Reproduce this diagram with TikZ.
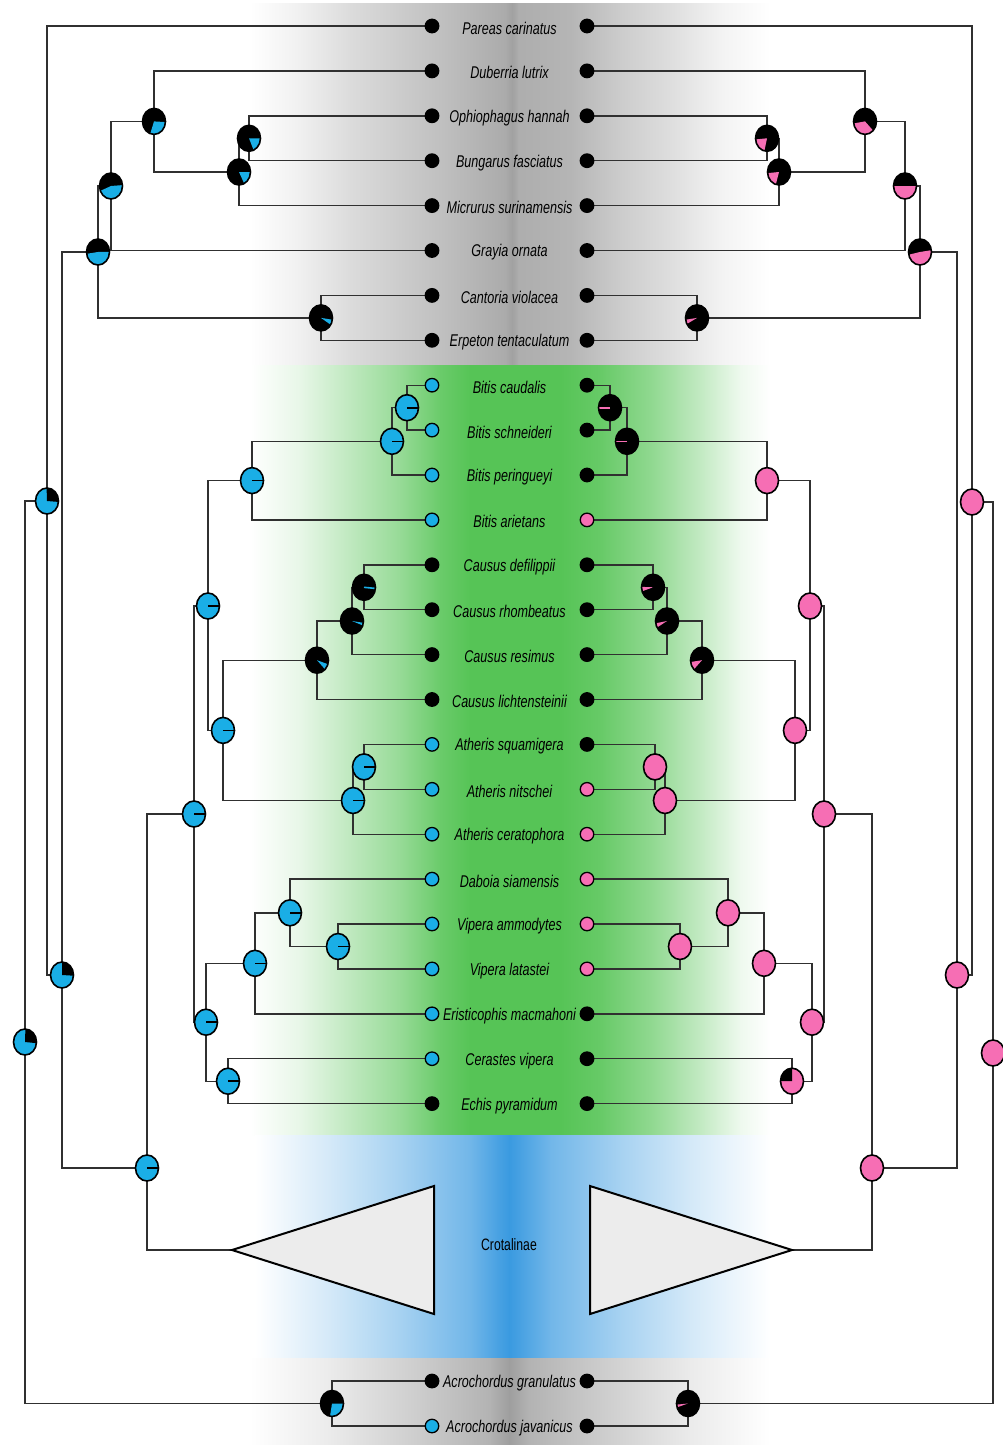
\documentclass[tikz,border=0pt]{standalone}
\usepackage{fontspec}
\newfontfamily\taxfont[FakeStretch=0.74]{Liberation Sans}

\definecolor{pieblue}{RGB}{26,174,230}
\definecolor{piepink}{RGB}{246,110,180}
\definecolor{branchgray}{RGB}{48,48,48}
\definecolor{trifill}{RGB}{236,236,236}
\definecolor{bandgreen}{RGB}{86,196,86}
\definecolor{bandblue}{RGB}{58,154,224}

\tikzset{
  branch/.style={draw=branchgray, line width=1.4pt},
  taxon/.style={font=\taxfont\itshape\fontsize{17}{20}\selectfont, inner sep=0pt, anchor=center},
  groupname/.style={font=\taxfont\fontsize{16.5}{20}\selectfont, inner sep=0pt, anchor=center},
  tipdot/.style={circle, fill=#1, draw=black, line width=1.3pt, minimum size=13.5pt, inner sep=0pt},
  clade/.style={draw=black, line width=2pt, fill=trifill},
}

% ancestral-state pie: centre, base colour, sector colour, sector start/end angle
\newcommand{\piechart}[5]{%
  \begin{scope}[shift={(#1)}, yscale=-1]
    \fill[#2] (0,0) ellipse[x radius=11.5, y radius=13];
    \fill[#3] (0,0) -- (#4:11.5 and 13) arc[start angle=#4, end angle=#5, x radius=11.5, y radius=13] -- cycle;
    \draw[black, line width=1.6pt] (0,0) ellipse[x radius=11.5, y radius=13];
  \end{scope}}
% pie with a single thin radial sliver
\newcommand{\pietick}[4]{%
  \begin{scope}[shift={(#1)}, yscale=-1]
    \fill[#2] (0,0) ellipse[x radius=11.5, y radius=13];
    \draw[#3, line width=1.6pt] (0,0) -- (#4:11.5 and 13);
    \draw[black, line width=1.6pt] (0,0) ellipse[x radius=11.5, y radius=13];
  \end{scope}}
% single-state pie
\newcommand{\pieplain}[2]{%
  \begin{scope}[shift={(#1)}]
    \fill[#2] (0,0) ellipse[x radius=11.5, y radius=13];
    \draw[black, line width=1.6pt] (0,0) ellipse[x radius=11.5, y radius=13];
  \end{scope}}
% rectangular cladogram junction: parent, child, child
\newcommand{\joinclade}[3]{\draw[branch] (#2) -| (#1) |- (#3);}

\begin{document}
\begin{tikzpicture}[x=1pt, y=-1pt]
\useasboundingbox (0,0) rectangle (1003,1445);
\fill[white] (0,0) rectangle (1003,1445);

% ---- background bands ----
\foreach \xa/\xb/\ca/\cb in {250/300/white/black!6, 300/350/black!6/black!14, 350/400/black!14/black!20,
  400/450/black!20/black!26, 450/505/black!26/black!33, 505/512/black!33/black!37, 512/518/black!37/black!32,
  518/570/black!32/black!29, 570/620/black!29/black!20, 620/670/black!20/black!13, 670/720/black!13/black!5,
  720/770/black!5/white}
  {\shade[left color=\ca, right color=\cb] (\xa,4) rectangle ({\xb+0.6},365);}
\foreach \xa/\xb/\ca/\cb in {250/300/white/bandgreen!14, 300/350/bandgreen!14/bandgreen!38,
  350/400/bandgreen!38/bandgreen!62, 400/440/bandgreen!62/bandgreen!88, 440/470/bandgreen!88/bandgreen,
  470/560/bandgreen/bandgreen, 560/600/bandgreen/bandgreen!90, 600/650/bandgreen!90/bandgreen!66,
  650/700/bandgreen!66/bandgreen!36, 700/740/bandgreen!36/bandgreen!10, 740/770/bandgreen!10/white}
  {\shade[left color=\ca, right color=\cb] (\xa,365) rectangle ({\xb+0.6},1135);}
\foreach \xa/\xb/\ca/\cb in {255/330/white/bandblue!22, 330/400/bandblue!22/bandblue!45,
  400/470/bandblue!45/bandblue!72, 470/497/bandblue!72/bandblue!92, 497/509/bandblue!92/bandblue,
  509/521/bandblue/bandblue!92, 521/550/bandblue!92/bandblue!72, 550/620/bandblue!72/bandblue!45,
  620/690/bandblue!45/bandblue!22, 690/770/bandblue!22/white}
  {\shade[left color=\ca, right color=\cb] (\xa,1135) rectangle ({\xb+0.6},1358);}
\foreach \xa/\xb/\ca/\cb in {250/330/white/black!8, 330/420/black!8/black!20, 420/490/black!20/black!30,
  490/509/black!30/black!38, 509/528/black!38/black!30, 528/600/black!30/black!20,
  600/690/black!20/black!8, 690/770/black!8/white}
  {\shade[left color=\ca, right color=\cb] (\xa,1358) rectangle ({\xb+0.6},1445);}

% ---- tip positions ----
\foreach \i in {0,...,24} {
  \coordinate (L\i) at (432,{26+44.9*\i});
  \coordinate (R\i) at (587,{26+44.9*\i});
}
\coordinate (LA1) at (432,1381);
\coordinate (LA2) at (432,1426);
\coordinate (RA1) at (587,1381);
\coordinate (RA2) at (587,1426);
\coordinate (lCrot) at (232,1250);
\coordinate (rCrot) at (792,1250);

% ---- left tree junctions ----
\coordinate (lC) at (249,138.3);
\coordinate (lB) at (239,172);
\coordinate (lA) at (154,121.4);
\coordinate (lD) at (111,186);
\coordinate (lF) at (321,317.9);
\coordinate (lE) at (98,252);
\coordinate (lH) at (47,501);
\coordinate (lG) at (62,975);
\coordinate (lK) at (147,1168);
\coordinate (lJ) at (194,814);
\coordinate (lb1) at (407,407.7);
\coordinate (lb2) at (392,441.3);
\coordinate (lb3) at (252,480.6);
\coordinate (lL) at (208,606);
\coordinate (lc1) at (364,587.3);
\coordinate (lc2) at (352,621);
\coordinate (lc3) at (317,660.2);
\coordinate (la1) at (364,766.9);
\coordinate (la2) at (353,800.5);
\coordinate (lM) at (223,730.4);
\coordinate (ld1) at (338,946.5);
\coordinate (ld2) at (290,912.8);
\coordinate (ld3) at (255,963.3);
\coordinate (le1) at (228,1081.2);
\coordinate (lN) at (206,1022.2);
\coordinate (lAc) at (332,1403.5);
\coordinate (lR) at (25,1042);

% ---- right tree junctions ----
\coordinate (rC) at (767,138.3);
\coordinate (rB) at (779,172);
\coordinate (rA) at (865,121.4);
\coordinate (rD) at (905,186);
\coordinate (rF) at (697,317.9);
\coordinate (rE) at (920,252);
\coordinate (rH) at (972,502);
\coordinate (rG) at (957,975);
\coordinate (rK) at (872,1168);
\coordinate (rJ) at (824,814);
\coordinate (rb1) at (610,407.7);
\coordinate (rb2) at (627,441.3);
\coordinate (rb3) at (767,480.6);
\coordinate (rL) at (810,606);
\coordinate (rc1) at (653,587.3);
\coordinate (rc2) at (667,621);
\coordinate (rc3) at (702,660.2);
\coordinate (ra1) at (655,766.9);
\coordinate (ra2) at (665,800.5);
\coordinate (rM) at (795,730.4);
\coordinate (rd1) at (680,946.5);
\coordinate (rd2) at (728,912.8);
\coordinate (rd3) at (764,963.3);
\coordinate (re1) at (792,1081.2);
\coordinate (rN) at (812,1022.2);
\coordinate (rAc) at (688,1403.5);
\coordinate (rR) at (993,1053);

% ---- branches, left ----
\joinclade{lC}{L2}{L3}
\joinclade{lB}{lC}{L4}
\joinclade{lA}{L1}{lB}
\joinclade{lD}{lA}{L5}
\joinclade{lF}{L6}{L7}
\joinclade{lE}{lD}{lF}
\joinclade{lH}{L0}{lG}
\joinclade{lG}{lE}{lK}
\joinclade{lK}{lJ}{lCrot}
\joinclade{lJ}{lL}{lN}
\joinclade{lL}{lb3}{lM}
\joinclade{lb1}{L8}{L9}
\joinclade{lb2}{lb1}{L10}
\joinclade{lb3}{lb2}{L11}
\joinclade{lc1}{L12}{L13}
\joinclade{lc2}{lc1}{L14}
\joinclade{lc3}{lc2}{L15}
\joinclade{lM}{lc3}{la2}
\joinclade{la1}{L16}{L17}
\joinclade{la2}{la1}{L18}
\joinclade{ld1}{L20}{L21}
\joinclade{ld2}{L19}{ld1}
\joinclade{ld3}{ld2}{L22}
\joinclade{le1}{L23}{L24}
\joinclade{lN}{ld3}{le1}
\joinclade{lAc}{LA1}{LA2}
\joinclade{lR}{lH}{lAc}

% ---- branches, right ----
\joinclade{rC}{R2}{R3}
\joinclade{rB}{rC}{R4}
\joinclade{rA}{R1}{rB}
\joinclade{rD}{rA}{R5}
\joinclade{rF}{R6}{R7}
\joinclade{rE}{rD}{rF}
\joinclade{rH}{R0}{rG}
\joinclade{rG}{rE}{rK}
\joinclade{rK}{rJ}{rCrot}
\joinclade{rJ}{rL}{rN}
\joinclade{rL}{rb3}{rM}
\joinclade{rb1}{R8}{R9}
\joinclade{rb2}{rb1}{R10}
\joinclade{rb3}{rb2}{R11}
\joinclade{rc1}{R12}{R13}
\joinclade{rc2}{rc1}{R14}
\joinclade{rc3}{rc2}{R15}
\joinclade{rM}{rc3}{ra2}
\joinclade{ra1}{R16}{R17}
\joinclade{ra2}{ra1}{R18}
\joinclade{rd1}{R20}{R21}
\joinclade{rd2}{R19}{rd1}
\joinclade{rd3}{rd2}{R22}
\joinclade{re1}{R23}{R24}
\joinclade{rN}{rd3}{re1}
\joinclade{rAc}{RA1}{RA2}
\joinclade{rR}{rH}{rAc}

% ---- collapsed Crotalinae ----
\draw[clade] (lCrot) -- (434,1186) -- (434,1314) -- cycle;
\draw[clade] (rCrot) -- (590,1314) -- (590,1186) -- cycle;
\node[groupname] (crot) at (509,1245) {Crotalinae};

% ---- pies, left ----
\piechart{lA}{black}{pieblue}{-109}{-3}
\piechart{lB}{black}{pieblue}{-63}{0}
\piechart{lC}{black}{pieblue}{-66}{0}
\piechart{lD}{black}{pieblue}{-158}{4}
\piechart{lE}{black}{pieblue}{-172}{1}
\piechart{lF}{black}{pieblue}{-32}{-8}
\piechart{lH}{pieblue}{black}{-4}{92}
\piechart{lG}{pieblue}{black}{-3}{90}
\piechart{lR}{pieblue}{black}{-5}{88}
\piechart{lAc}{black}{pieblue}{-100}{0}
\pietick{lc1}{black}{pieblue}{-5}
\piechart{lc2}{black}{pieblue}{-20}{-8}
\piechart{lc3}{black}{pieblue}{-45}{-18}
\foreach \c in {lb1,lb2,lb3,lL,lM,la1,la2,ld1,ld2,ld3,lN,le1,lJ,lK}
  {\pietick{\c}{pieblue}{black}{0}}

% ---- pies, right ----
\piechart{rA}{black}{piepink}{189}{315}
\piechart{rB}{black}{piepink}{185}{254}
\piechart{rC}{black}{piepink}{185}{257}
\piechart{rD}{black}{piepink}{180}{360}
\piechart{rE}{black}{piepink}{192}{368}
\piechart{rF}{black}{piepink}{188}{208}
\pietick{rb1}{black}{piepink}{180}
\pietick{rb2}{black}{piepink}{180}
\piechart{rc1}{black}{piepink}{178}{198}
\piechart{rc2}{black}{piepink}{190}{210}
\piechart{rc3}{black}{piepink}{188}{225}
\piechart{re1}{piepink}{black}{90}{180}
\piechart{rAc}{black}{piepink}{185}{197}
\foreach \c in {rb3,rL,rM,rJ,rK,rH,rG,rR,ra1,ra2,rd1,rd2,rd3,rN}
  {\pieplain{\c}{piepink}}

% ---- tip states ----
\foreach \i/\lc/\rc in {0/black/black, 1/black/black, 2/black/black, 3/black/black, 4/black/black,
  5/black/black, 6/black/black, 7/black/black, 8/pieblue/black, 9/pieblue/black, 10/pieblue/black,
  11/pieblue/piepink, 12/black/black, 13/black/black, 14/black/black, 15/black/black,
  16/pieblue/black, 17/pieblue/piepink, 18/pieblue/piepink, 19/pieblue/piepink, 20/pieblue/piepink,
  21/pieblue/piepink, 22/pieblue/black, 23/pieblue/black, 24/black/black} {
  \node[tipdot=\lc] (dl\i) at (L\i) {};
  \node[tipdot=\rc] (dr\i) at (R\i) {};
}
\node[tipdot=black] (dlA1) at (LA1) {};
\node[tipdot=pieblue] (dlA2) at (LA2) {};
\node[tipdot=black] (drA1) at (RA1) {};
\node[tipdot=black] (drA2) at (RA2) {};

% ---- taxon names ----
\foreach \i/\t in {0/Pareas carinatus, 1/Duberria lutrix, 2/Ophiophagus hannah, 3/Bungarus fasciatus,
  4/Micrurus surinamensis, 5/Grayia ornata, 6/Cantoria violacea, 7/Erpeton tentaculatum,
  8/Bitis caudalis, 9/Bitis schneideri, 10/Bitis peringueyi, 11/Bitis arietans,
  12/Causus defilippii, 13/Causus rhombeatus, 14/Causus resimus, 15/Causus lichtensteinii,
  16/Atheris squamigera, 17/Atheris nitschei, 18/Atheris ceratophora, 19/Daboia siamensis,
  20/Vipera ammodytes, 21/Vipera latastei, 22/Eristicophis macmahoni, 23/Cerastes vipera,
  24/Echis pyramidum}
  {\node[taxon] (t\i) at (509.5,{28+44.9*\i}) {\t};}
\node[taxon] (tA1) at (509.5,1383) {Acrochordus granulatus};
\node[taxon] (tA2) at (509.5,1428) {Acrochordus javanicus};
\end{tikzpicture}
\end{document}
